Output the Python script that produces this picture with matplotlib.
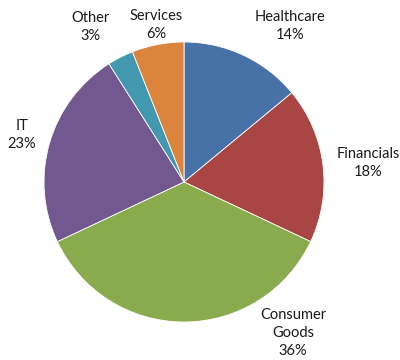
import matplotlib.pyplot as plt

sectors = ["Healthcare", "Financials", "Consumer\nGoods", "IT", "Other", "Services"]
shares = [14, 18, 36, 23, 3, 6]
colours = ["#4672A8", "#A94543", "#8AAA4E", "#71588F", "#4198AF", "#DB843D"]

# label centres in pixel coordinates
label_xy = [(290, 26), (368, 163), (293, 333), (22, 135), (90, 27), (156, 25)]

fig = plt.figure(figsize=(4, 3.6), dpi=100)
ax = fig.add_axes([0, 0, 1, 1])

# y runs downward, so -90 is the top and counterclock reads clockwise on screen
wedges, _ = ax.pie(shares, colors=colours, startangle=-90, counterclock=True,
                   center=(184, 182), radius=140, frame=True,
                   wedgeprops=dict(edgecolor="white", linewidth=0.6))
ax.set_xlim(0, 400)
ax.set_ylim(360, 0)
ax.set_aspect("equal")
ax.axis("off")

for name, val, (x, y) in zip(sectors, shares, label_xy):
    ax.text(x, y, f"{name}\n{val}%", ha="center", va="center",
            fontsize=10.5, family="Lato", color="#1a1a1a", linespacing=1.35)

fig.savefig("out.png", dpi=100)
